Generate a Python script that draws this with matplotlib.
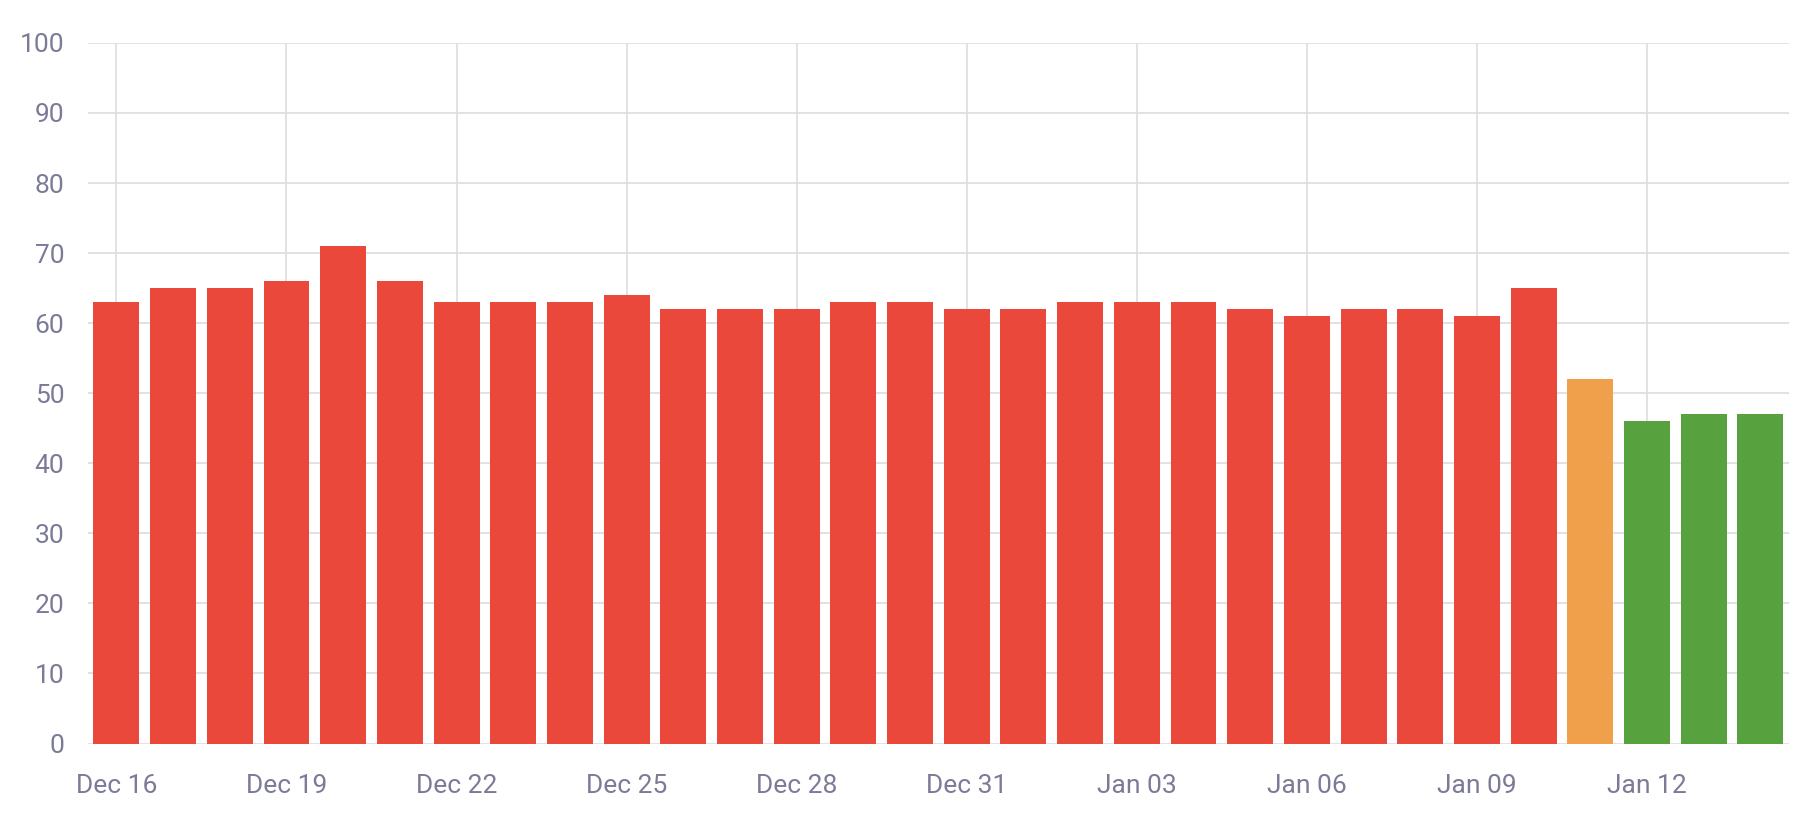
from matplotlib import pyplot as plt

import numpy as np

# daily values, Dec 16 -> Jan 14
days = ['Dec 16', 'Dec 17', 'Dec 18', 'Dec 19', 'Dec 20', 'Dec 21', 'Dec 22',
        'Dec 23', 'Dec 24', 'Dec 25', 'Dec 26', 'Dec 27', 'Dec 28', 'Dec 29',
        'Dec 30', 'Dec 31', 'Jan 01', 'Jan 02', 'Jan 03', 'Jan 04', 'Jan 05',
        'Jan 06', 'Jan 07', 'Jan 08', 'Jan 09', 'Jan 10', 'Jan 11', 'Jan 12',
        'Jan 13', 'Jan 14']
values = [63, 65, 65, 66, 71, 66, 63, 63, 63, 64, 62, 62, 62, 63, 63, 62,
          62, 63, 63, 63, 62, 61, 62, 62, 61, 65, 52, 46, 47, 47]
level = ['high'] * 26 + ['mid'] + ['low'] * 3

colors = {'high': '#E9483A', 'mid': '#F0A04B', 'low': '#57A23F'}
label_color = '#7B7B98'
grid_color = '#DEDEE4'

plt.rcParams['font.family'] = ['Roboto', 'DejaVu Sans']

fig = plt.figure(figsize=(18.16, 8.18), dpi=100)
ax = fig.add_axes([0.0485, 0.091, 0.9365, 0.8566])

x = np.arange(len(values))
ax.bar(x, values, width=0.81, color=[colors[l] for l in level],
       edgecolor='none', zorder=3)

ax.set_xlim(-0.5, len(values) - 0.5)
ax.set_ylim(0, 100)
ax.set_yticks(np.arange(0, 101, 10))

tick_idx = x[::3]
ax.set_xticks(tick_idx)
ax.set_xticklabels([days[i] for i in tick_idx])

ax.grid(True, color=grid_color, linewidth=1.3, zorder=0)
for s in ax.spines.values():
    s.set_visible(False)
ax.tick_params(axis='both', length=0, labelsize=19, labelcolor=label_color)
ax.tick_params(axis='y', pad=17)
ax.tick_params(axis='x', pad=22)

fig.savefig('out.png', dpi=100)
